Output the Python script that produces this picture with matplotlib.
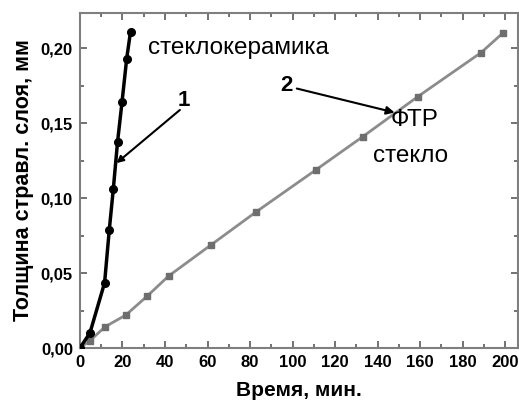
import matplotlib
matplotlib.use("Agg")
import matplotlib.pyplot as plt
from matplotlib.ticker import MultipleLocator, FuncFormatter

plt.rcParams['font.family'] = ['Liberation Sans', 'DejaVu Sans']

# кривая 1 - стеклокерамика
t1 = [0, 4.7, 11.6, 13.8, 15.7, 17.7, 19.8, 22.0, 23.8]
h1 = [0.0, 0.010, 0.0435, 0.0787, 0.106, 0.1375, 0.164, 0.193, 0.211]

# кривая 2 - ФТР стекло
t2 = [0, 4.7, 11.9, 21.6, 31.7, 41.7, 61.8, 82.8, 110.9, 133.0, 158.9, 188.7, 198.9]
h2 = [0.0, 0.0049, 0.0142, 0.022, 0.0347, 0.048, 0.0689, 0.0907, 0.1187, 0.1409, 0.1676, 0.197, 0.210]

fig = plt.figure(figsize=(5.19, 4.05), dpi=100)
ax = fig.add_axes([0.154, 0.1407, 0.844, 0.827])

ax.plot(t2, h2, color='#8c8c8c', lw=2, marker='s', ms=4.5,
        mfc='#6e6e6e', mec='#6e6e6e', zorder=2)
ax.plot(t1, h1, color='black', lw=2.5, marker='o', ms=5.5, zorder=3)

ax.set_xlim(0, 206)
ax.set_ylim(0, 0.2233)

ax.xaxis.set_major_locator(MultipleLocator(20))
ax.xaxis.set_minor_locator(MultipleLocator(10))
ax.yaxis.set_major_locator(MultipleLocator(0.05))
ax.yaxis.set_minor_locator(MultipleLocator(0.025))
ax.yaxis.set_major_formatter(FuncFormatter(lambda v, p: f"{v:.2f}".replace('.', ',')))

for s in ax.spines.values():
    s.set_color('#7f7f7f')
    s.set_linewidth(1.5)
ax.tick_params(which='both', direction='in', top=True, right=True,
               color='#5a5a5a', width=1.2)
ax.tick_params(which='major', length=5, labelsize=12, pad=5)
ax.tick_params(which='minor', length=3)
for lab in ax.get_xticklabels() + ax.get_yticklabels():
    lab.set_fontweight('bold')

ax.set_xlabel('Время, мин.', fontsize=15, fontweight='bold', labelpad=8)
ax.set_ylabel('Толщина стравл. слоя, мм', fontsize=15.5, fontweight='bold', labelpad=5)

ax.text(32, 0.2, 'стеклокерамика', fontsize=17.5, va='center', ha='left')
ax.text(146, 0.152, 'ФТР', fontsize=17.5, va='center', ha='left')
ax.text(138, 0.128, 'стекло', fontsize=17.5, va='center', ha='left')
ax.text(49, 0.165, '1', fontsize=16, fontweight='bold', va='center', ha='center')
ax.text(97, 0.175, '2', fontsize=16, fontweight='bold', va='center', ha='center')

ax.annotate('', xy=(17.2, 0.1233), xytext=(47, 0.1587),
            arrowprops=dict(arrowstyle='-|>', color='black', lw=1.5,
                            mutation_scale=10, shrinkA=0, shrinkB=0))
ax.annotate('', xy=(148, 0.157), xytext=(102, 0.173),
            arrowprops=dict(arrowstyle='-|>', color='black', lw=1.5,
                            mutation_scale=12, shrinkA=0, shrinkB=0))

fig.savefig('out.png', dpi=100)
